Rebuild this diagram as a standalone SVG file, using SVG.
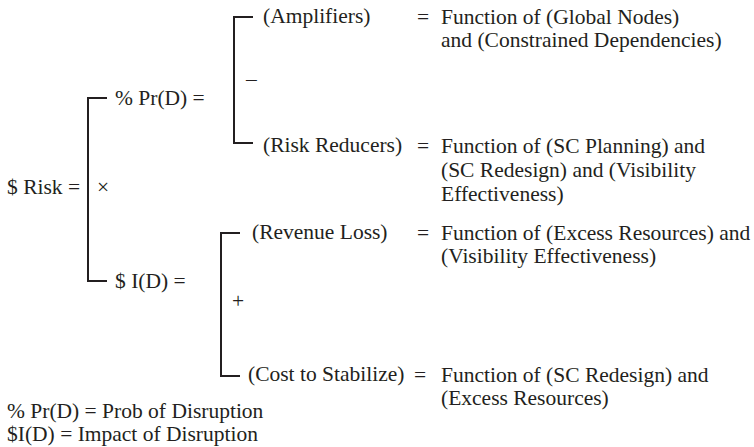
<svg xmlns="http://www.w3.org/2000/svg" width="754" height="447" viewBox="0 0 754 447">
  <style>
    text { font-family: "Liberation Serif", "Times New Roman", serif; font-size: 21.5px; fill: #231f20; }
    .br { fill: none; stroke: #231f20; stroke-width: 2; }
  </style>
  <rect width="754" height="447" fill="#ffffff"/>

  <!-- bracket connectors -->
  <g id="connectors">
    <path class="br" d="M107,98 H88 V281 H107"/>
    <path class="br" d="M253,17 H234 V143 H253"/>
    <path class="br" d="M240,233 H221 V376 H240"/>
  </g>

  <g id="risk">
    <text x="7" y="194">$ Risk =</text>
    <text x="97" y="194">×</text>
  </g>

  <g id="prob">
    <text x="115" y="105">% Pr(D) =</text>
    <text x="246" y="86">–</text>
  </g>

  <g id="amplifiers">
    <text x="263" y="23">(Amplifiers)</text>
    <text x="417" y="24">=</text>
    <text x="441" y="24">Function of (Global Nodes)</text>
    <text x="441" y="47">and (Constrained Dependencies)</text>
  </g>

  <g id="reducers">
    <text x="263" y="152">(Risk Reducers)</text>
    <text x="417" y="153">=</text>
    <text x="441" y="153">Function of (SC Planning) and</text>
    <text x="441" y="177">(SC Redesign) and (Visibility</text>
    <text x="441" y="201">Effectiveness)</text>
  </g>

  <g id="impact">
    <text x="115" y="288">$ I(D) =</text>
    <text x="232" y="308">+</text>
  </g>

  <g id="revenue">
    <text x="252" y="239">(Revenue Loss)</text>
    <text x="417" y="240">=</text>
    <text x="441" y="240">Function of (Excess Resources) and</text>
    <text x="441" y="263">(Visibility Effectiveness)</text>
  </g>

  <g id="stabilize">
    <text x="248" y="381">(Cost to Stabilize)</text>
    <text x="414" y="382">=</text>
    <text x="441" y="382">Function of (SC Redesign) and</text>
    <text x="441" y="405">(Excess Resources)</text>
  </g>

  <g id="legend">
    <text x="7" y="418">% Pr(D) = Prob of Disruption</text>
    <text x="7" y="441">$I(D) = Impact of Disruption</text>
  </g>
</svg>
